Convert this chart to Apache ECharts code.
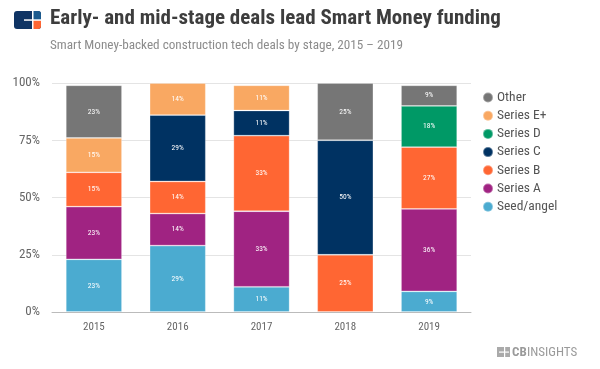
<!DOCTYPE html>
<html><head><meta charset="utf-8">
<script src="https://cdn.jsdelivr.net/npm/echarts@6/dist/echarts.min.js"></script>
<style>html,body{margin:0;padding:0;background:#fff}#c{width:600px;height:369px}</style>
</head><body><div id="c"></div>
<script>
const categories = ['2015','2016','2017','2018','2019'];
const seedAngel = [23, 29, 11, null, 9];
const seriesA = [23, 14, 33, null, 36];
const seriesB = [15, 14, 33, 25, 27];
const seriesC = [null, 29, 11, 50, null];
const seriesD = [null, null, null, null, 18];
const seriesEPlus = [15, 14, 11, null, null];
const other = [23, null, null, 25, 9];
const yTicks = ['0%','25%','50%','75%','100%'];
const title = 'Early- and mid-stage deals lead Smart Money funding';
const subtitle = 'Smart Money-backed construction tech deals by stage, 2015 \u2013 2019';

const COND = '"Roboto Condensed","Liberation Sans Narrow","DejaVu Sans Condensed",Roboto,sans-serif';
const defs = [
  ['Seed/angel', seedAngel, '#4BABD0'],
  ['Series A', seriesA, '#A02382'],
  ['Series B', seriesB, '#FF6633'],
  ['Series C', seriesC, '#003262'],
  ['Series D', seriesD, '#009966'],
  ['Series E+', seriesEPlus, '#F9A862'],
  ['Other', other, '#767676']
];
const chart = echarts.init(document.getElementById('c'), null, {renderer:'canvas'});
chart.setOption({
  animation:false,
  grid:{left:52, right:129, top:83, bottom:57},
  legend:{
    orient:'vertical', left:477, top:85.5, itemGap:4.2, itemWidth:10, itemHeight:10, icon:'circle',
    data:['Other','Series E+','Series D','Series C','Series B','Series A','Seed/angel'],
    textStyle:{color:'#555', fontSize:13.5, fontFamily:COND, padding:[0,0,0,-1]}
  },
  xAxis:{type:'category', data:categories,
    axisLine:{lineStyle:{color:'#bbb', width:1}}, axisTick:{show:false},
    axisLabel:{color:'#666', fontSize:11, margin:10, fontFamily:COND}},
  yAxis:{type:'value', min:0, max:100, interval:25,
    axisLabel:{color:'#666', fontSize:13, margin:12, fontFamily:COND,
      formatter:(v)=>yTicks[Math.round(v/25)]},
    splitLine:{lineStyle:{color:'#e4e4e4', width:1}}, axisLine:{show:false}, axisTick:{show:false}},
  series: defs.map(([name,data,color])=>({
    name, type:'bar', stack:'s', data, barCategoryGap:'33%',
    itemStyle:{color, borderColor:'rgba(255,255,255,0.35)', borderWidth:0.8},
    label:{show:true, position:'inside', color:'#fff', fontSize:7.5, fontFamily:COND,
      formatter:(p)=>p.value==null?'':p.value+'%'}
  })),
  graphic:[
    {type:'group', left:14, top:11, children:[
      {type:'rect', shape:{x:0,y:0,width:27,height:18,r:3}, style:{fill:'#0F3464'}},
      {type:'rect', shape:{x:19,y:0,width:8,height:9,r:[0,3,0,0]}, style:{fill:'#1B5A8E'}},
      {type:'rect', shape:{x:19,y:9,width:8,height:9,r:[0,0,3,0]}, style:{fill:'#FF6633'}},
      {type:'rect', shape:{x:18,y:0,width:1.5,height:18}, style:{fill:'#fff'}},
      {type:'rect', shape:{x:10,y:8.3,width:17,height:1.5}, style:{fill:'#fff'}}
    ]},
    {type:'text', left:50, top:8.5, style:{text:title, fill:'#3d3d3d', font:'bold 21px '+COND}},
    {type:'text', left:50, top:39, style:{text:subtitle, fill:'#8c8c8c', font:'13.2px '+COND}},
    {type:'group', left:497, top:346, children:[
      {type:'rect', shape:{x:0,y:1,width:13,height:10}, style:{fill:'#aaa'}},
      {type:'rect', shape:{x:7,y:1,width:1.2,height:10}, style:{fill:'#fff'}},
      {type:'rect', shape:{x:2,y:5.5,width:10,height:1.2}, style:{fill:'#fff'}},
      {type:'text', x:15, y:0, style:{text:'CB', fill:'#9a9a9a', font:'bold 13px '+COND}},
      {type:'text', x:30, y:0, style:{text:'INSIGHTS', fill:'#9a9a9a', font:'13px '+COND}}
    ]}
  ]
});
</script></body></html>
